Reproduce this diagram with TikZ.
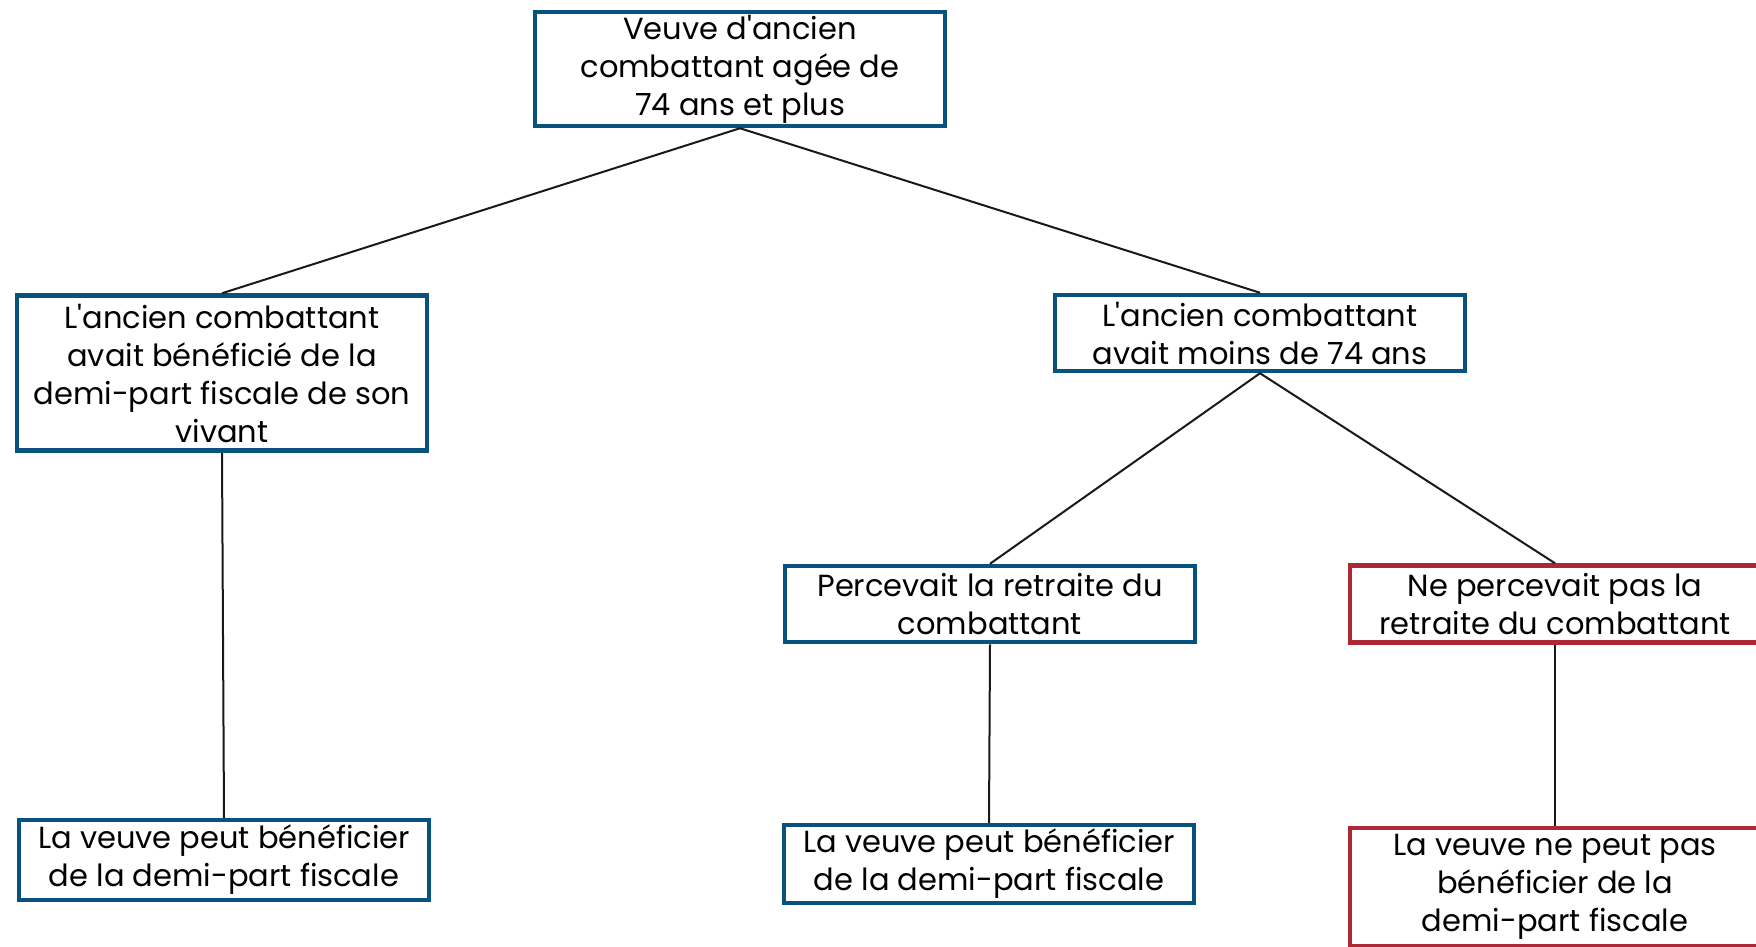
\documentclass[tikz,border=0pt]{standalone}
\usepackage{fontspec}
\setmainfont{Poppins}[Ligatures=NoCommon]
\definecolor{boxblue}{RGB}{8, 82, 128}
\definecolor{boxred}{RGB}{172, 40, 54}
\definecolor{linegray}{RGB}{25, 25, 25}
\usepackage{tikz}
\usetikzlibrary{positioning}

\begin{document}
\begin{tikzpicture}[x=1pt, y=-1pt,
    bluebox/.style={draw=boxblue, line width=4.5pt, fill=white, align=center, inner sep=0pt,
      minimum width=410pt, font=\fontsize{30.5}{38}\selectfont},
    redbox/.style={bluebox, draw=boxred},
    link/.style={line width=2pt, linegray}]
  \useasboundingbox (0,0) rectangle (1756,946);

  % Top level
  \node[bluebox, minimum height=114pt] (veuve) at (740, 69) {Veuve d\textquotesingle ancien\\combattant agée de\\74 ans et plus};

  % Second level
  \node[bluebox, minimum height=155pt] (benef) at (222, 373) {L\textquotesingle ancien combattant\\avait bénéficié de la\\demi-part fiscale de son\\vivant};
  \node[bluebox, minimum height=76pt] (moins) at (1260, 333) {L\textquotesingle ancien combattant\\avait moins de 74 ans};

  % Third level
  \node[bluebox, minimum height=76pt] (perc) at (990, 604) {Percevait la retraite du\\combattant};
  \node[redbox, minimum height=77pt] (noperc) at (1555, 604) {Ne percevait pas la\\retraite du combattant};

  % Outcomes
  \node[bluebox, minimum height=80pt] (ouiA) at (224, 860) {La veuve peut bénéficier\\de la demi-part fiscale};
  \node[bluebox, minimum height=78pt] (ouiB) at (989, 864) {La veuve peut bénéficier\\de la demi-part fiscale};
  \node[redbox, minimum height=118pt] (non) at (1555, 887) {La veuve ne peut pas\\bénéficier de la\\demi-part fiscale};

  % Links
  \draw[link] (veuve.south) -- (benef.north);
  \draw[link] (veuve.south) -- (moins.north);
  \draw[link] (moins.south) -- (perc.north);
  \draw[link] (moins.south) -- (noperc.north);
  \draw[link] (benef.south) -- (ouiA.north);
  \draw[link] (perc.south) -- (ouiB.north);
  \draw[link] (noperc.south) -- (non.north);
\end{tikzpicture}
\end{document}
